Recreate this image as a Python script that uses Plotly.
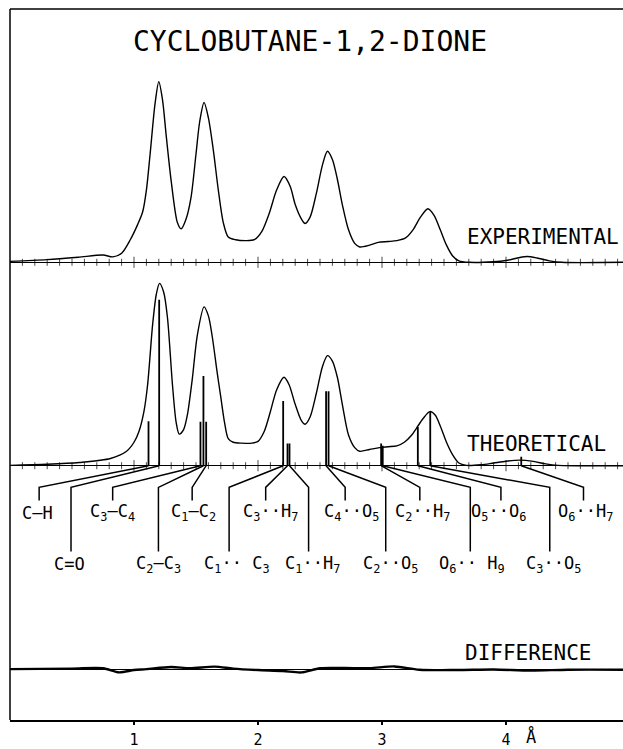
import plotly.graph_objects as go

# ---------------- data (r in Å, intensities in arbitrary units) ----------------
r_exp = [0.00, 0.30, 0.55, 0.75, 0.83, 0.90, 0.97, 1.03, 1.07, 1.10, 1.13, 1.17, 1.20, 1.23, 1.26,
         1.30, 1.35, 1.38, 1.42, 1.46, 1.50, 1.53, 1.565, 1.60, 1.64, 1.68, 1.72, 1.76, 1.82, 1.90,
         1.97, 2.03, 2.09, 2.15, 2.21, 2.26, 2.30, 2.35, 2.38, 2.42, 2.47, 2.52, 2.56, 2.60, 2.64,
         2.68, 2.73, 2.78, 2.82, 2.90, 2.97, 3.05, 3.12, 3.19, 3.25, 3.31, 3.37, 3.42, 3.47, 3.52,
         3.57, 3.62, 3.70, 3.90, 4.00, 4.10, 4.17, 4.25, 4.35, 4.45, 4.95]
h_exp = [0.5, 1.5, 2.8, 4.0, 3.0, 5.0, 12.5, 21, 28, 40, 60, 88, 100, 90, 70,
         45, 22, 18.5, 24, 36, 60, 78, 88.5, 80, 62, 40, 22, 14, 12.5, 12,
         12.5, 17, 27, 40, 47.5, 42, 32, 24, 21.5, 25, 38, 54, 61.5, 57, 46,
         32, 18, 10.5, 8.5, 9.5, 11, 11.5, 12, 13.5, 18, 25, 29.7, 26, 18, 9.5,
         3.5, 0.8, 0.0, 0.3, 1.0, 2.5, 3.2, 2.4, 0.8, 0.0, 0.0]

r_theo = [0.00, 0.30, 0.56, 0.81, 0.94, 1.00, 1.04, 1.08, 1.11, 1.15, 1.18, 1.206, 1.24, 1.27, 1.31,
          1.34, 1.365, 1.40, 1.43, 1.47, 1.51, 1.565, 1.60, 1.63, 1.67, 1.70, 1.73, 1.76, 1.80, 1.87,
          1.95, 2.00, 2.05, 2.10, 2.15, 2.21, 2.25, 2.30, 2.35, 2.38, 2.42, 2.47, 2.52, 2.56, 2.60,
          2.64, 2.68, 2.73, 2.78, 2.82, 2.90, 2.98, 3.05, 3.12, 3.18, 3.24, 3.28, 3.33, 3.385, 3.43,
          3.47, 3.52, 3.57, 3.62, 3.68, 3.80, 3.90, 4.00, 4.11, 4.22, 4.32, 4.42, 4.95]
h_theo = [0.2, 0.8, 1.8, 4.0, 8, 13, 19, 30, 45, 78, 95, 101, 96, 82, 45,
          24, 17.5, 20, 28, 48, 72, 88, 83, 72, 52, 38, 24, 15, 13, 12.5,
          12.5, 13.5, 19, 30, 42, 49, 45, 34, 25, 23, 27, 40, 55, 61, 58,
          49, 34, 17, 10, 8, 9, 10, 10.5, 11, 13, 17, 21, 26, 30, 28,
          22, 13, 6, 1.5, 0.2, 0.5, 1.5, 2.5, 3.1, 2.4, 1.0, 0.2, 0.0]

r_diff = [0.0, 0.5, 0.75, 0.88, 1.0, 1.1, 1.3, 1.45, 1.65, 1.8, 2.0, 2.2, 2.35, 2.5, 2.7,
          2.9, 3.1, 3.3, 3.6, 3.9, 4.2, 4.5, 4.95]
h_diff = [0.0, 0.3, 0.5, -1.8, -0.5, 0.0, 1.2, 0.5, 1.4, 0.3, -0.5, -1.0, -1.8, 0.5, 0.6,
          0.5, 1.5, -0.3, -0.5, -0.2, -0.8, -0.3, -0.3]

stick_r = [1.117, 1.203, 1.536, 1.560, 1.582, 2.203, 2.238, 2.254, 2.549, 2.569,
           2.993, 3.006, 3.289, 3.389, 4.123]
stick_h = [24.7, 92.0, 24.3, 49.7, 24.3, 35.9, 12.3, 12.3, 41.2, 41.2,
           12.3, 11.0, 21.5, 29.8, 5.0]
stick_labels = ["C–H", "C=O", "C<sub>3</sub>–C<sub>4</sub>", "C<sub>2</sub>–C<sub>3</sub>",
                "C<sub>1</sub>–C<sub>2</sub>", "C<sub>1</sub>·· C<sub>3</sub>",
                "C<sub>3</sub>··H<sub>7</sub>", "C<sub>1</sub>··H<sub>7</sub>",
                "C<sub>4</sub>··O<sub>5</sub>", "C<sub>2</sub>··O<sub>5</sub>",
                "C<sub>2</sub>··H<sub>7</sub>", "O<sub>6</sub>·· H<sub>9</sub>",
                "O<sub>5</sub>··O<sub>6</sub>", "C<sub>3</sub>··O<sub>5</sub>",
                "O<sub>6</sub>··H<sub>7</sub>"]
# label placement along the r axis and label row (1 = upper, 2 = lower)
leader_r = [0.235, 0.492, 0.828, 1.197, 1.469, 1.767, 2.062, 2.408, 2.703, 3.030,
            3.305, 3.712, 3.959, 4.353, 4.625]
label_r = [0.22, 0.476, 0.828, 1.197, 1.479, 1.828, 2.10, 2.437, 2.757, 3.071,
           3.328, 3.728, 3.936, 4.385, 4.641]
label_row = [1, 2, 1, 2, 1, 2, 1, 2, 1, 2, 1, 2, 1, 2, 1]

tick_vals = [1, 2, 3, 4]
tick_text = ["1", "2", "3", "4"]
baseline_ticks = [round(0.1 * i, 1) for i in range(1, 50)]

# ---------------- layout geometry ----------------
FONT = "DejaVu Sans Mono"
W, H = 623, 749
ML, MR, MT, MB = 10, 0, 9, 27
PH = H - MT - MB
PW = W - ML - MR
K = 1.81  # px per intensity unit


def frac(ypx):
    return (H - MB - ypx) / PH


X_RANGE = [0, PW / 124.0]

fig = go.Figure()

fig.add_trace(go.Scatter(x=r_exp, y=h_exp, mode="lines",
                         line=dict(color="black", width=1.4, shape="spline", smoothing=0.8),
                         xaxis="x", yaxis="y", hoverinfo="skip"))
fig.add_trace(go.Scatter(x=r_theo, y=h_theo, mode="lines",
                         line=dict(color="black", width=1.4, shape="spline", smoothing=0.8),
                         xaxis="x", yaxis="y2", hoverinfo="skip"))
sx, sy = [], []
for r, h in zip(stick_r, stick_h):
    sx += [r, r, None]
    sy += [0, h, None]
fig.add_trace(go.Scatter(x=sx, y=sy, mode="lines", line=dict(color="black", width=1.8),
                         xaxis="x", yaxis="y2", hoverinfo="skip"))
BEND_H, ROW_END = -12.0, {1: -19.3, 2: -47.5}
lx, ly = [], []
for r, br, row in zip(stick_r, leader_r, label_row):
    lx += [r, br, br, None]
    ly += [0, BEND_H, ROW_END[row], None]
fig.add_trace(go.Scatter(x=lx, y=ly, mode="lines", line=dict(color="black", width=1.5),
                         xaxis="x", yaxis="y2", hoverinfo="skip"))
for ya in ["y", "y2"]:
    fig.add_trace(go.Scatter(x=baseline_ticks, y=[0] * len(baseline_ticks), mode="markers",
                             marker=dict(symbol="line-ns",
                                         size=[8 if abs(t - round(t)) < 1e-6 else 5 for t in baseline_ticks],
                                         line=dict(color="black", width=1)),
                             xaxis="x", yaxis=ya, hoverinfo="skip"))
fig.add_trace(go.Scatter(x=r_diff, y=h_diff, mode="lines",
                         line=dict(color="black", width=2.4, shape="spline", smoothing=0.8),
                         xaxis="x", yaxis="y3", hoverinfo="skip"))

ann = []
LROW_Y = {1: -26.0, 2: -54.5}
for lab, lr, row in zip(stick_labels, label_r, label_row):
    ann.append(dict(x=lr, y=LROW_Y[row], xref="x", yref="y2", text=lab, showarrow=False,
                    xanchor="center", yanchor="middle", font=dict(family=FONT, size=17, color="black")))

ann += [
    dict(x=(310 - ML) / PW, y=frac(42), xref="paper", yref="paper", text="CYCLOBUTANE-1,2-DIONE",
         showarrow=False, xanchor="center", yanchor="middle", font=dict(family=FONT, size=28, color="black")),
    dict(x=(465 - ML) / PW, y=frac(238), xref="paper", yref="paper", text="EXPERIMENTAL",
         showarrow=False, xanchor="left", yanchor="middle", font=dict(family=FONT, size=21, color="black")),
    dict(x=(465 - ML) / PW, y=frac(445), xref="paper", yref="paper", text="THEORETICAL",
         showarrow=False, xanchor="left", yanchor="middle", font=dict(family=FONT, size=21, color="black")),
    dict(x=(463 - ML) / PW, y=frac(655), xref="paper", yref="paper", text="DIFFERENCE",
         showarrow=False, xanchor="left", yanchor="middle", font=dict(family=FONT, size=21, color="black")),
    dict(x=4.20, y=frac(739), xref="x", yref="paper", text="Å",
         showarrow=False, xanchor="center", yanchor="middle", font=dict(family=FONT, size=17, color="black")),
]

fig.update_layout(
    width=W, height=H, margin=dict(l=ML, r=MR, t=MT, b=MB),
    paper_bgcolor="white", plot_bgcolor="white", showlegend=False,
    annotations=ann,
    xaxis=dict(range=X_RANGE, anchor="y3", showline=True, linecolor="black", linewidth=1.5,
               ticks="outside", ticklen=3, tickcolor="black", tickwidth=1.2,
               tickvals=tick_vals, ticktext=tick_text, showgrid=False, zeroline=False,
               ticklabelstandoff=2,
               tickfont=dict(family=FONT, size=15, color="black")),
    yaxis=dict(domain=[frac(272), 1.0], range=[(263 - 272) / K, (263 - MT) / K],
               showticklabels=False, showgrid=False, ticks="", zeroline=True,
               zerolinecolor="black", zerolinewidth=1.4),
    yaxis2=dict(domain=[frac(600), frac(272)], range=[(467 - 600) / K, (467 - 272) / K],
                showticklabels=False, showgrid=False, ticks="", zeroline=True,
                zerolinecolor="black", zerolinewidth=1.4),
    yaxis3=dict(domain=[0, frac(600)], range=[(671 - (H - MB)) / K, (671 - 600) / K],
                showticklabels=False, showgrid=False, ticks="", zeroline=True,
                zerolinecolor="black", zerolinewidth=1.0),
    shapes=[
        dict(type="line", xref="paper", yref="paper", x0=0, x1=0, y0=0, y1=1, line=dict(color="black", width=1.5)),
        dict(type="line", xref="paper", yref="paper", x0=0, x1=1, y0=1, y1=1, line=dict(color="black", width=1.5)),
    ],
)

fig.write_html("out.html", config={"displayModeBar": False, "staticPlot": True},
               post_script="document.body.style.margin='0';document.body.style.overflow='hidden';")
